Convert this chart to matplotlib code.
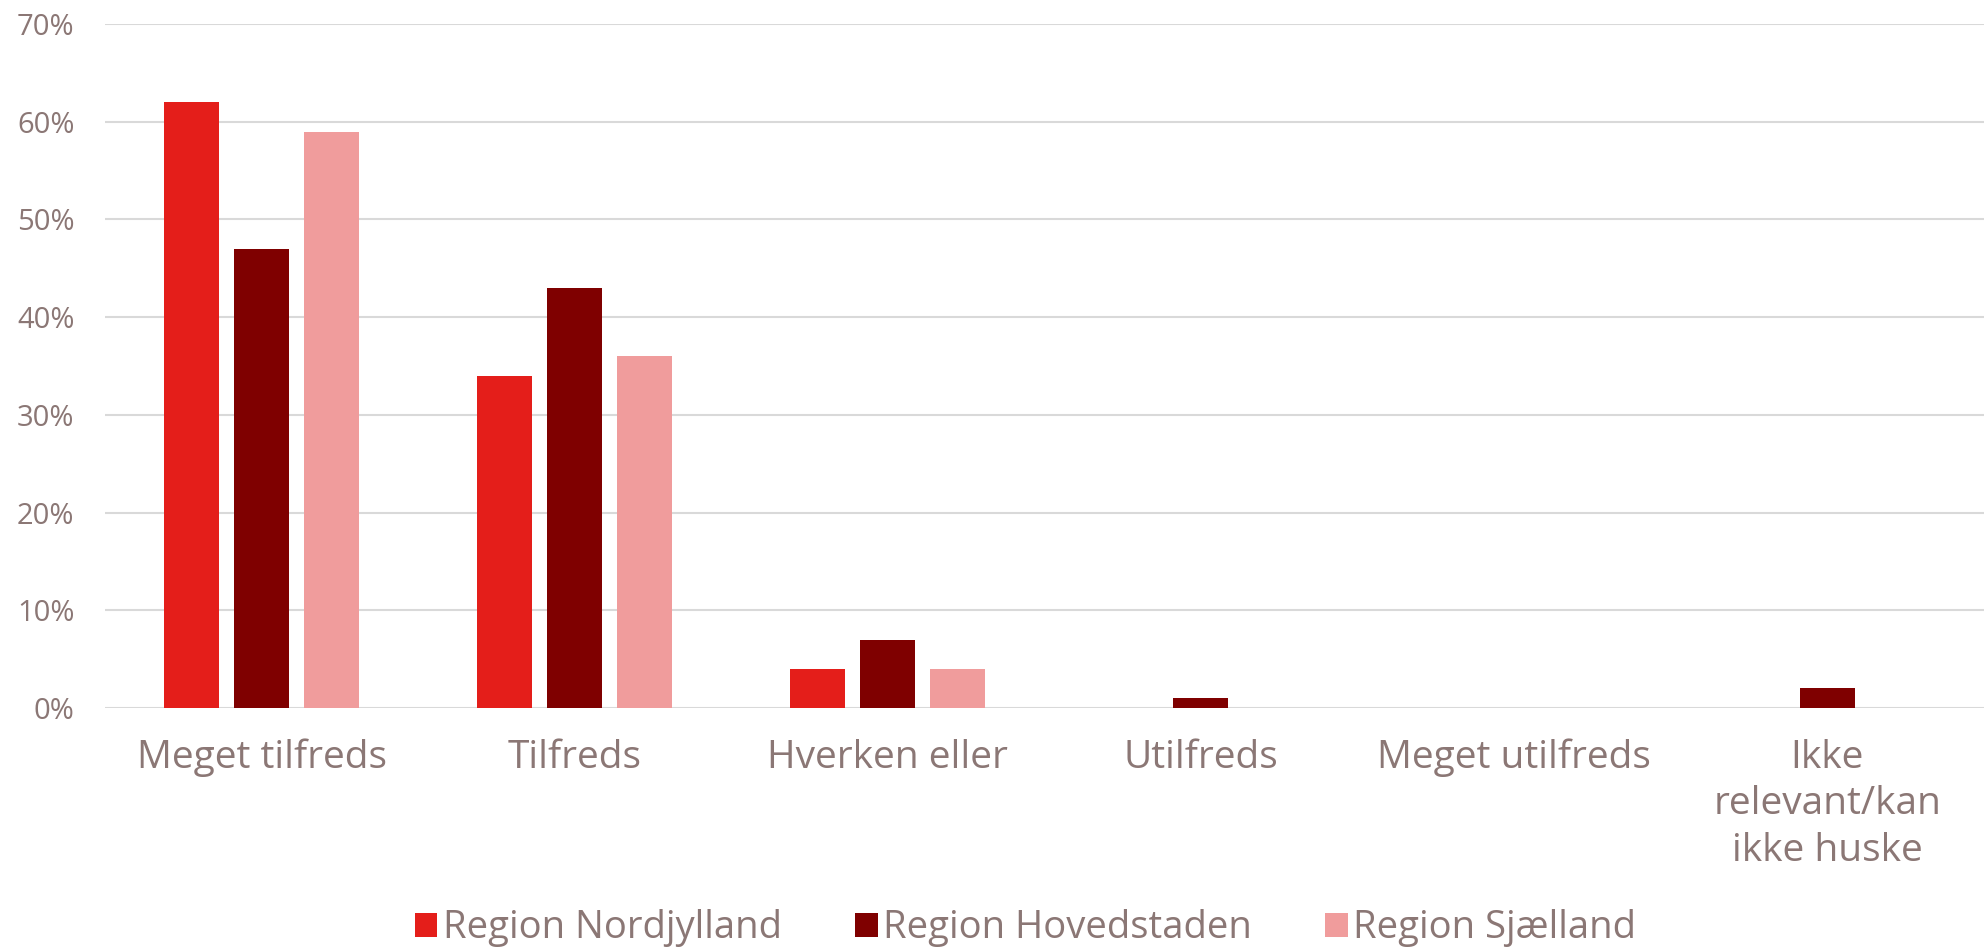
import numpy as np
import matplotlib.pyplot as plt
from matplotlib.ticker import FuncFormatter

categories = ['Meget tilfreds', 'Tilfreds', 'Hverken eller', 'Utilfreds',
              'Meget utilfreds', 'Ikke\nrelevant/kan\nikke huske']
nordjylland = [62, 34, 4, 0, 0, 0]
hovedstaden = [47, 43, 7, 1, 0, 2]
sjaelland = [59, 36, 4, 0, 0, 0]
series = [('Region Nordjylland', nordjylland, '#E41E1A'),
          ('Region Hovedstaden', hovedstaden, '#7F0000'),
          ('Region Sjælland', sjaelland, '#F09C9C')]

txt = '#8B7775'

fig = plt.figure(figsize=(19.88, 9.5), dpi=100)
ax = fig.add_axes([0.0528, 0.2547, 0.945, 0.72])

x = np.arange(len(categories))
w = 0.176
step = 0.224
for i, (name, vals, col) in enumerate(series):
    ax.bar(x + (i - 1) * step, vals, w, color=col, label=name, zorder=3)

ax.set_xlim(-0.5, len(categories) - 0.5)
ax.set_ylim(0, 70)
ax.set_yticks(np.arange(0, 71, 10))
ax.yaxis.set_major_formatter(FuncFormatter(lambda v, p: '%d%%' % v))
ax.grid(axis='y', color='#D9D9D9', linewidth=1.5, zorder=0)
for s in ax.spines.values():
    s.set_visible(False)
ax.tick_params(axis='both', length=0, colors=txt)
ax.tick_params(axis='y', labelsize=21, pad=22)
ax.set_xticks(x)
ax.set_xticklabels(categories, fontsize=28, linespacing=1.3)
ax.tick_params(axis='x', pad=22)
for lab in ax.get_yticklabels() + ax.get_xticklabels():
    lab.set_family(['Open Sans', 'DejaVu Sans'])

leg = ax.legend(loc='center', bbox_to_anchor=(0.49, -0.322), ncol=3,
                frameon=False, handlelength=0.6, handleheight=0.6,
                handletextpad=0.15, columnspacing=1.9,
                prop={'family': ['Open Sans', 'DejaVu Sans'], 'size': 27.5})
for t in leg.get_texts():
    t.set_color(txt)

plt.savefig('out.png', dpi=100)
